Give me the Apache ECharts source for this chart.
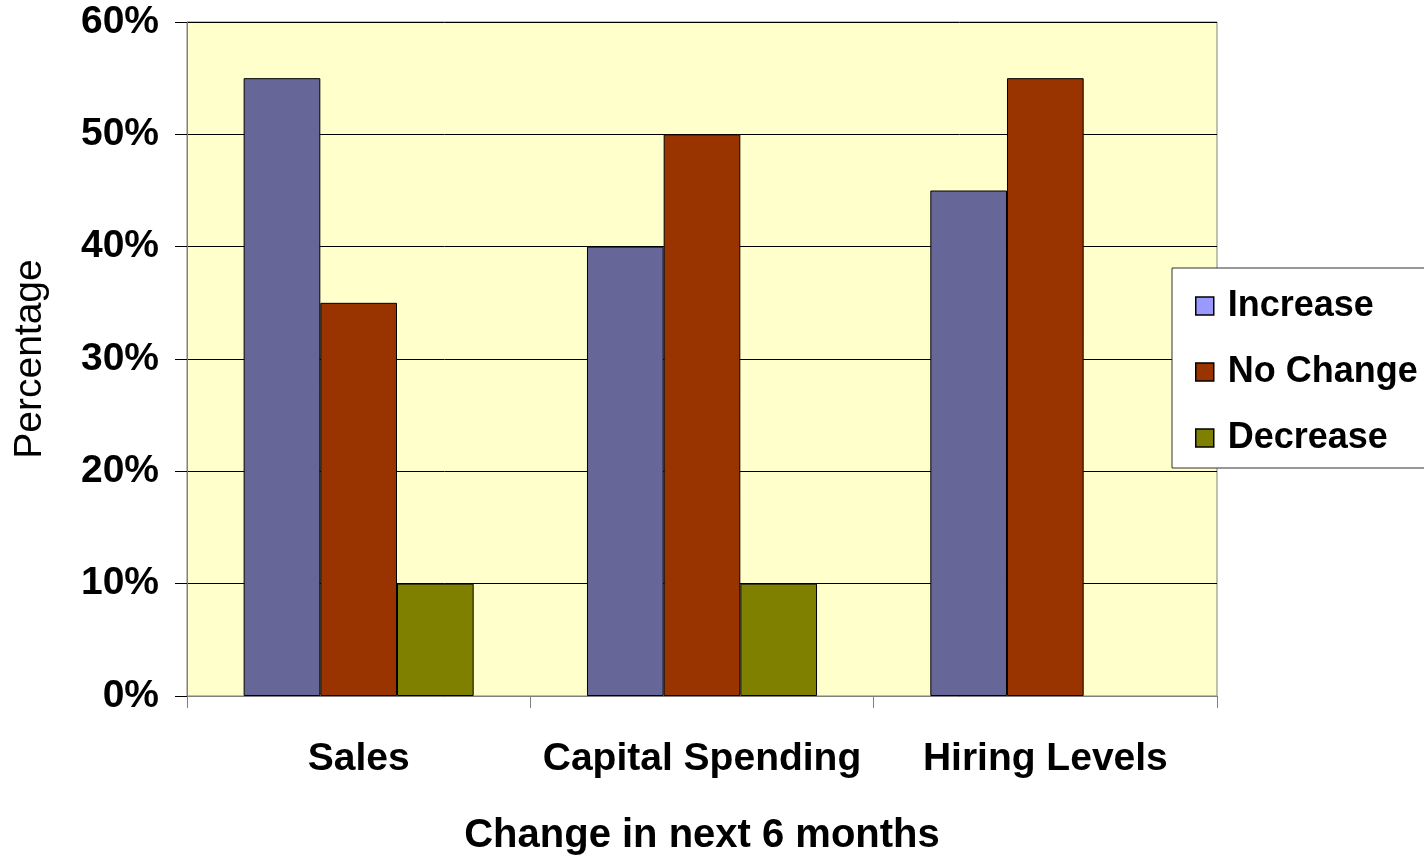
<!DOCTYPE html>
<html><head><meta charset="utf-8">
<script src="https://cdn.jsdelivr.net/npm/echarts@6/dist/echarts.min.js"></script>
<style>html,body{margin:0;padding:0;background:#fff}#c{width:1424px;height:858px}</style>
</head><body><div id="c"></div>
<script>
const categories = ['Sales', 'Capital Spending', 'Hiring Levels'];
const increase = [55, 40, 45];
const noChange = [35, 50, 55];
const decrease = [10, 10, 0];
const seriesNames = ['Increase', 'No Change', 'Decrease'];
const yTicks = [0, 10, 20, 30, 40, 50, 60];

const barColors = ['#666699', '#993300', '#808000'];
const legendColors = ['#9999FF', '#993300', '#808000'];
const font = '"Liberation Sans", Arial, sans-serif';

const chart = echarts.init(document.getElementById('c'));
chart.setOption({
  animation: false,
  backgroundColor: '#ffffff',
  grid: {left: 187, right: 207, top: 22, bottom: 162, containLabel: false, outerBoundsMode: 'none',
    show: true, backgroundColor: '#FFFFCC', borderColor: '#808080', borderWidth: 1},
  legend: {
    orient: 'vertical', left: 1172, top: 268,
    padding: [18, 20, 10, 23],
    backgroundColor: '#ffffff', borderColor: '#333333', borderWidth: 1,
    itemWidth: 18, itemHeight: 18, itemGap: 26, itemTextGap: 13,
    textStyle: {fontFamily: font, fontWeight: 'bold', fontSize: 36, color: '#000', lineHeight: 40, padding: [0, 0, 0, 9]},
    data: seriesNames.map((n, i) => ({name: n, icon: 'rect', itemStyle: {color: legendColors[i], borderColor: '#000', borderWidth: 1.5}}))
  },
  xAxis: {
    type: 'category', data: categories,
    name: 'Change in next 6 months', nameLocation: 'middle', nameGap: 120,
    nameTextStyle: {fontFamily: font, fontWeight: 'bold', fontSize: 40, color: '#000'},
    axisLine: {lineStyle: {color: '#808080', width: 1}},
    axisTick: {show: true, length: 12, lineStyle: {color: '#808080'}},
    axisLabel: {fontFamily: font, fontWeight: 'bold', fontSize: 39, color: '#000', margin: 44, interval: 0},
    splitLine: {show: false}
  },
  yAxis: {
    type: 'value', min: 0, max: 60, interval: 10,
    name: 'Percentage', nameLocation: 'middle', nameGap: 137,
    nameTextStyle: {fontFamily: font, fontSize: 39, color: '#000'},
    axisLine: {show: true, lineStyle: {color: '#808080', width: 1}},
    axisTick: {show: true, length: 12, lineStyle: {color: '#000'}},
    axisLabel: {fontFamily: font, fontWeight: 'bold', fontSize: 39, color: '#000', margin: 28,
      formatter: v => yTicks.includes(v) ? v + '%' : ''},
    splitLine: {show: true, lineStyle: {color: '#000', width: 1}}
  },
  series: [increase, noChange, decrease].map((d, i) => ({
    name: seriesNames[i], type: 'bar',
    data: d.map(v => v === 0 ? {value: v, itemStyle: {borderWidth: 0}} : v),
    barGap: '0%', barCategoryGap: '33%',
    itemStyle: {color: barColors[i], borderColor: '#000', borderWidth: 1}
  }))
});
</script></body></html>
